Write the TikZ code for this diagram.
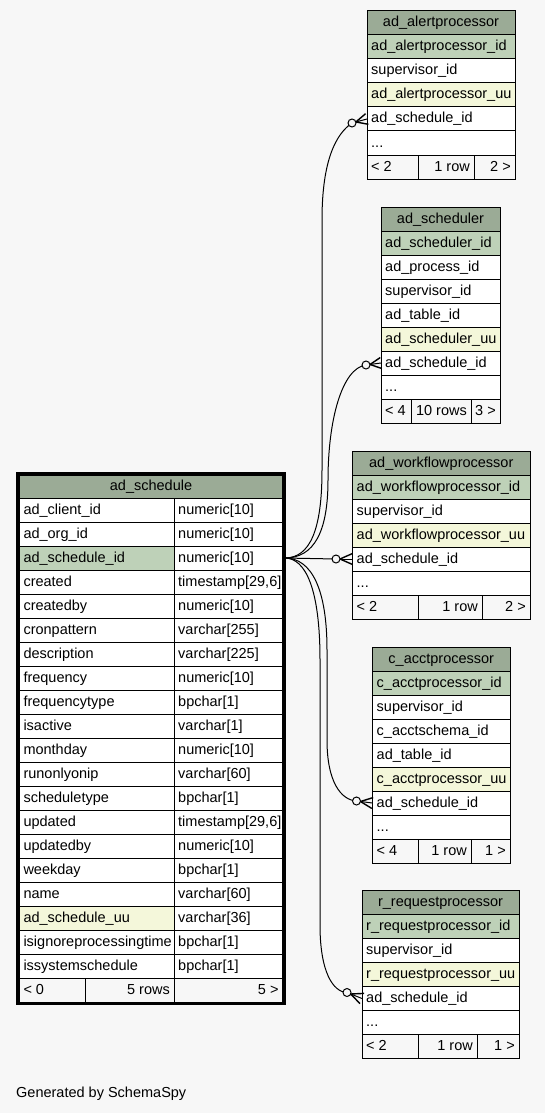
\documentclass[tikz,border=0pt]{standalone}
\usepackage{fontspec}
\setmainfont{Liberation Sans}
\usetikzlibrary{calc}
\definecolor{bg}{HTML}{F7F7F7}
\definecolor{hdr}{HTML}{9BAB96}
\definecolor{pk}{HTML}{BED1B8}
\definecolor{idx}{HTML}{F4F7DA}
\tikzset{
  cell/.style={draw=black, line width=1pt, minimum height=24pt, inner sep=0pt, outer sep=0pt},
  txt/.style={inner sep=0pt, text height=10.5pt, text depth=2.5pt, font=\fontsize{14.5}{17}\selectfont},
  rel/.style={draw=black, line width=1pt},
}
\newcommand{\cellL}[6]{\node[cell, fill=#5, minimum width=#4pt, anchor=north west] (#1) at (#2,#3) {};
  \node[txt, anchor=west] (#1t) at ([xshift=4pt]#1.west) {#6};}
\newcommand{\cellR}[6]{\node[cell, fill=#5, minimum width=#4pt, anchor=north west] (#1) at (#2,#3) {};
  \node[txt, anchor=east] (#1t) at ([xshift=-4pt]#1.east) {#6};}
\newcommand{\cellC}[6]{\node[cell, fill=#5, minimum width=#4pt, anchor=north west] (#1) at (#2,#3) {};
  \node[txt] (#1t) at (#1.center) {#6};}
\newcommand{\crowdot}[2]{%
  \draw[rel] ($(#1)!4pt!(#2)$) -- (#2);
  \draw[rel, line width=1.4pt, line join=round] ($(#2)!5.5pt!90:(#1)$) -- ($(#1)!4pt!(#2)$) -- ($(#2)!5.5pt!-90:(#1)$);
  \draw[rel, fill=bg] (#1) circle (4pt);}
\begin{document}
\begin{tikzpicture}[x=1pt, y=-1pt]
\path[fill=bg, use as bounding box] (0,0) rectangle (545,1113);

% ad_alertprocessor
\cellC{a-h}{367}{11}{148}{hdr}{ad\_alertprocessor}
\cellL{a-r1}{367}{35}{148}{pk}{ad\_alertprocessor\_id}
\cellL{a-r2}{367}{59}{148}{white}{supervisor\_id}
\cellL{a-r3}{367}{83}{148}{idx}{ad\_alertprocessor\_uu}
\cellL{a-r4}{367}{107}{148}{white}{ad\_schedule\_id}
\cellL{a-r5}{367}{131}{148}{white}{...}
\cellL{a-f1}{367}{155}{51}{bg}{< 2}
\cellR{a-f2}{418}{155}{56}{bg}{1 row}
\cellR{a-f3}{474}{155}{41}{bg}{2 >}

% ad_scheduler
\cellC{b-h}{381}{207}{119}{hdr}{ad\_scheduler}
\cellL{b-r1}{381}{231}{119}{pk}{ad\_scheduler\_id}
\cellL{b-r2}{381}{255}{119}{white}{ad\_process\_id}
\cellL{b-r3}{381}{279}{119}{white}{supervisor\_id}
\cellL{b-r4}{381}{303}{119}{white}{ad\_table\_id}
\cellL{b-r5}{381}{327}{119}{idx}{ad\_scheduler\_uu}
\cellL{b-r6}{381}{351}{119}{white}{ad\_schedule\_id}
\cellL{b-r7}{381}{375}{119}{white}{...}
\cellL{b-f1}{381}{399}{30}{bg}{< 4}
\cellR{b-f2}{411}{399}{60}{bg}{10 rows}
\cellR{b-f3}{471}{399}{29}{bg}{3 >}

% ad_workflowprocessor
\cellC{w-h}{352.5}{451}{177.5}{hdr}{ad\_workflowprocessor}
\cellL{w-r1}{352.5}{475}{177.5}{pk}{ad\_workflowprocessor\_id}
\cellL{w-r2}{352.5}{499}{177.5}{white}{supervisor\_id}
\cellL{w-r3}{352.5}{523}{177.5}{idx}{ad\_workflowprocessor\_uu}
\cellL{w-r4}{352.5}{547}{177.5}{white}{ad\_schedule\_id}
\cellL{w-r5}{352.5}{571}{177.5}{white}{...}
\cellL{w-f1}{352.5}{595}{65.5}{bg}{< 2}
\cellR{w-f2}{418}{595}{64}{bg}{1 row}
\cellR{w-f3}{482}{595}{48}{bg}{2 >}

% c_acctprocessor
\cellC{c-h}{372.5}{647}{137.5}{hdr}{c\_acctprocessor}
\cellL{c-r1}{372.5}{671}{137.5}{pk}{c\_acctprocessor\_id}
\cellL{c-r2}{372.5}{695}{137.5}{white}{supervisor\_id}
\cellL{c-r3}{372.5}{719}{137.5}{white}{c\_acctschema\_id}
\cellL{c-r4}{372.5}{743}{137.5}{white}{ad\_table\_id}
\cellL{c-r5}{372.5}{767}{137.5}{idx}{c\_acctprocessor\_uu}
\cellL{c-r6}{372.5}{791}{137.5}{white}{ad\_schedule\_id}
\cellL{c-r7}{372.5}{815}{137.5}{white}{...}
\cellL{c-f1}{372.5}{839}{45.5}{bg}{< 4}
\cellR{c-f2}{418}{839}{53}{bg}{1 row}
\cellR{c-f3}{471}{839}{39}{bg}{1 >}

% r_requestprocessor
\cellC{r-h}{362}{890.5}{157}{hdr}{r\_requestprocessor}
\cellL{r-r1}{362}{914.5}{157}{pk}{r\_requestprocessor\_id}
\cellL{r-r2}{362}{938.5}{157}{white}{supervisor\_id}
\cellL{r-r3}{362}{962.5}{157}{idx}{r\_requestprocessor\_uu}
\cellL{r-r4}{362}{986.5}{157}{white}{ad\_schedule\_id}
\cellL{r-r5}{362}{1010.5}{157}{white}{...}
\cellL{r-f1}{362}{1034.5}{56}{bg}{< 2}
\cellR{r-f2}{418}{1034.5}{59}{bg}{1 row}
\cellR{r-f3}{477}{1034.5}{42}{bg}{1 >}

% ad_schedule
\cellC{s-h}{19.3}{474}{263.4}{hdr}{ad\_schedule}
\foreach \n/\t/\ty/\f [count=\i from 0] in {
  1/ad\_client\_id/numeric[10]/white,
  2/ad\_org\_id/numeric[10]/white,
  3/ad\_schedule\_id/numeric[10]/pk,
  4/created/timestamp[29{,}6]/white,
  5/createdby/numeric[10]/white,
  6/cronpattern/varchar[255]/white,
  7/description/varchar[225]/white,
  8/frequency/numeric[10]/white,
  9/frequencytype/bpchar[1]/white,
  10/isactive/varchar[1]/white,
  11/monthday/numeric[10]/white,
  12/runonlyonip/varchar[60]/white,
  13/scheduletype/bpchar[1]/white,
  14/updated/timestamp[29{,}6]/white,
  15/updatedby/numeric[10]/white,
  16/weekday/bpchar[1]/white,
  17/name/varchar[60]/white,
  18/ad\_schedule\_uu/varchar[36]/idx,
  19/isignoreprocessingtime/bpchar[1]/white,
  20/issystemschedule/bpchar[1]/white}{
  \pgfmathsetmacro{\yy}{498+24*\i}
  \cellL{s-r\n a}{19.3}{\yy}{154.7}{\f}{\t}
  \cellL{s-r\n b}{174}{\yy}{108.7}{white}{\ty}
}
\cellL{s-f1}{19.3}{978}{65.7}{bg}{< 0}
\cellR{s-f2}{85}{978}{89}{bg}{5 rows}
\cellR{s-f3}{174}{978}{108.7}{bg}{5 >}
\draw[line width=3.3pt] (17.7,474) rectangle (284.3,1003.7);

% connector end points
\coordinate (src) at ([xshift=2pt]s-r3b.east);
\coordinate (e1) at (a-r4.west);
\coordinate (c1) at ([shift={(-15,4)}]a-r4.west);
\coordinate (e2) at (b-r6.west);
\coordinate (c2) at ([shift={(-15,2)}]b-r6.west);
\coordinate (e3) at (w-r4.west);
\coordinate (c3) at ([shift={(-16.5,0)}]w-r4.west);
\coordinate (e4) at (c-r6.west);
\coordinate (c4) at ([shift={(-16,-2)}]c-r6.west);
\coordinate (e5) at (r-r4.west);
\coordinate (c5) at ([shift={(-15,-6)}]r-r4.west);

\draw[rel] (src) .. controls (310,558) and (322,530) .. (322,470) -- (322,220) .. controls (322,160) and (336,134) .. (c1);
\draw[rel] (src) .. controls (314,558) and (328,532) .. (328,480) .. controls (328,420) and (342,368) .. (c2);
\draw[rel] (src) -- (c3);
\draw[rel] (src) .. controls (312,558) and (327,590) .. (327,650) -- (327,740) .. controls (327,782) and (341,800) .. (c4);
\draw[rel] (src) .. controls (306,558) and (320,590) .. (320,660) -- (320,925) .. controls (320,972) and (333,992) .. (c5);

\crowdot{c1}{e1}
\crowdot{c2}{e2}
\crowdot{c3}{e3}
\crowdot{c4}{e4}
\crowdot{c5}{e5}

\node[txt, anchor=west] (gen) at (16,1093) {Generated by SchemaSpy};
\end{tikzpicture}
\end{document}
